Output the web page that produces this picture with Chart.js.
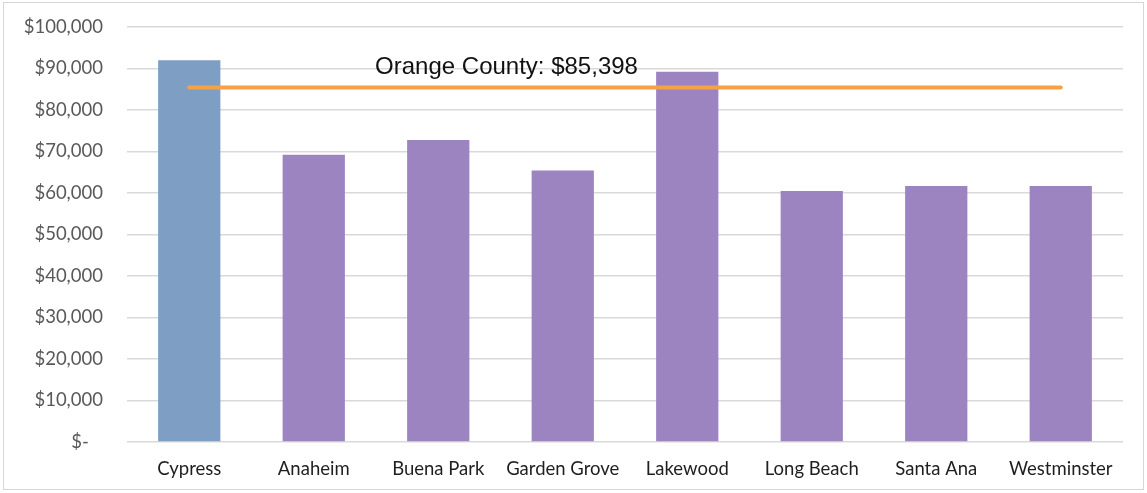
<!DOCTYPE html>
<html>
<head>
<meta charset="utf-8">
<script src="https://cdn.jsdelivr.net/npm/chart.js@4"></script>
<style>
  html, body { margin: 0; padding: 0; background: #fff; }
  #wrap { position: relative; width: 1147px; height: 493px; }
  #frame { position: absolute; left: 3px; top: 2px; width: 1141px; height: 488px; border: 1px solid #d6d6d6; pointer-events: none; box-sizing: border-box; }
</style>
</head>
<body>
<div id="wrap">
  <canvas id="chart" width="1147" height="493"></canvas>
  <div id="frame"></div>
</div>
<script>
// data
const cities = ["Cypress", "Anaheim", "Buena Park", "Garden Grove", "Lakewood", "Long Beach", "Santa Ana", "Westminster"]
const income = [92000, 69200, 72800, 65400, 89200, 60500, 61700, 61700]
const countyValue = 85398
const countyLabel = "Orange County: $85,398"
const barColors = ["#7f9ec4", "#9b84c0", "#9b84c0", "#9b84c0", "#9b84c0", "#9b84c0", "#9b84c0", "#9b84c0"]

const countyLine = cities.map(() => countyValue)

// text above the county line
const lineLabel = {
  id: "lineLabel",
  afterDatasetsDraw(chart) {
    const ctx = chart.ctx
    const x = chart.scales.x.getPixelForValue(2.5) + 6
    const y = chart.scales.y.getPixelForValue(countyValue) - 20
    ctx.save()
    ctx.font = "24px 'Liberation Sans', Arial, sans-serif"
    ctx.fillStyle = "#111"
    ctx.textAlign = "center"
    ctx.textBaseline = "middle"
    ctx.fillText(countyLabel, x, y)
    ctx.restore()
  }
}

new Chart(document.getElementById("chart"), {
  data: {
    labels: cities,
    datasets: [
      {
        type: "line",
        data: countyLine,
        borderColor: "#f4a245",
        borderWidth: 4,
        borderCapStyle: "round",
        pointRadius: 0,
        order: 0
      },
      {
        type: "bar",
        data: income,
        backgroundColor: barColors,
        barPercentage: 0.5,
        categoryPercentage: 1,
        order: 1
      }
    ]
  },
  options: {
    responsive: false,
    animation: false,
    layout: { padding: { left: 0, right: 24, top: 27, bottom: 0 } },
    plugins: { legend: { display: false }, tooltip: { enabled: false } },
    scales: {
      x: {
        grid: { display: false, drawTicks: false },
        border: { display: false },
        ticks: { padding: 16, color: "#1f1f1f", font: { family: "Lato", size: 18.5 } },
        afterFit: (s) => { s.height = 51; s.paddingLeft = 0; s.paddingRight = 0 }
      },
      y: {
        min: 0,
        max: 100000,
        grid: { color: "#d9d9d9", lineWidth: 1.5, drawTicks: false },
        border: { display: false },
        ticks: {
          stepSize: 10000,
          padding: 24,
          color: "#595959",
          font: { family: "Lato", size: 18.5 },
          callback: (v) => v === 0 ? "$-   " : "$" + v.toLocaleString("en-US")
        },
        afterFit: (s) => { s.width = 127; s.paddingTop = 0; s.paddingBottom = 0 }
      }
    }
  },
  plugins: [lineLabel]
})
</script>
</body>
</html>
